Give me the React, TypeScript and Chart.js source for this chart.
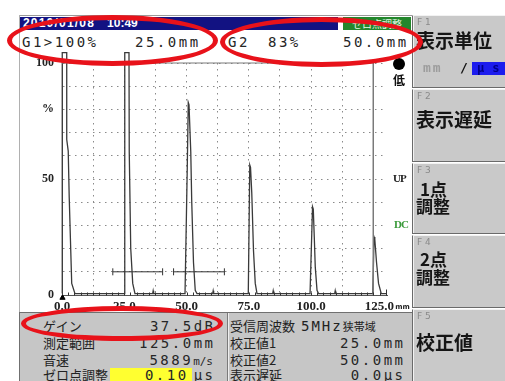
import React, { useEffect, useRef } from "react";
import { Chart, registerables } from "chart.js";

Chart.register(...registerables);

// ---- A-scan echo trace: distance (mm) and amplitude (% of full screen) ----
const echoMm = [
  0, 0.1, 1.9, 1.9, 2.5, 2.9, 3.9, 5.2,
  24.9, 25.2, 26.9, 27.0, 27.6, 28.4, 29.3,
  36.4, 36.6, 36.8,
  49.4, 50.3, 50.7, 51.0, 51.7, 52.1, 52.8, 53.5, 54.2,
  60.5, 60.7, 60.9,
  74.8, 75.4, 75.7, 76.2, 76.9, 77.6, 78.3,
  84.6, 84.8, 85.0,
  99.6, 100.6, 100.9, 101.3, 101.7, 102.4, 103.0,
  109.5, 109.7, 109.9,
  124.8, 125.3, 125.6, 126.3, 127.1, 128.2, 130.5,
];
const echoPct = [
  0.6, 104.5, 104.5, 67, 62, 42, 5, 0.6,
  0.6, 104.5, 104.5, 62, 20, 5, 0.6,
  0.6, 1.8, 0.6,
  0.6, 55, 83, 82, 62, 40, 14, 2, 0.6,
  0.6, 1.8, 0.6,
  0.6, 56, 55, 44, 19, 5, 0.6,
  0.6, 1.8, 0.6,
  0.6, 38, 37, 25, 12, 2, 0.6,
  0.6, 1.8, 0.6,
  0.6, 25, 24, 14, 5, 0.6, 0.6,
];

// ---- gates (start/end mm) and level (%) ----
const gate1Mm = [20.4, 40.4];
const gate2Mm = [44.8, 65.2];
const gateLevelPct = 10;

// ---- frame of the 0..125 mm / 0..100 % screen ----
const frameMm = [0, 125, 125];
const framePct = [100, 100, 0];

// ---- axes ----
const xMin = 0;
const xMax = 130.5;
const xGridMm = [0, 12.5, 25, 37.5, 50, 62.5, 75, 87.5, 100, 112.5, 125];
const xLabelMm = [0, 25, 50, 75, 100];
const xEndLabelMm = 125;
const xEndLabel = "125.0";
const xUnit = "mm";
const minorTickStepMm = 2.5;
const yGridPct = [0, 10, 20, 30, 40, 50, 60, 70, 80, 90, 100];
const yLabelPct = [0, 50, 80, 100];
const yLabelText = ["0", "50", "%", "100"];

// ---- panel texts ----
const dateText = "2010/01/08";
const timeText = "10:49";
const gate1Text = ["G1>100%", "25.0mm"];
const gate2Text = ["G2", "83%", "50.0mm"];
const leftLabels = ["ゲイン", "測定範囲", "音速", "ゼロ点調整"];
const rightLabels = ["受信周波数", "校正値1", "校正値2", "表示遅延"];

const MONO = '"DejaVu Sans Mono", monospace';
const JP = '"Noto Sans CJK JP", "Noto Sans", sans-serif';
const SERIF = '"Liberation Serif", serif';

const baseTicksPlugin = {
  id: "baseTicks",
  afterDatasetsDraw(chart: any) {
    const { ctx } = chart;
    const x = chart.scales.x;
    const y = chart.scales.y;
    const y0 = Math.round(y.getPixelForValue(0)) + 0.5;
    ctx.save();
    ctx.strokeStyle = "#333";
    ctx.lineWidth = 1;
    for (let v = minorTickStepMm; v <= xMax; v += minorTickStepMm) {
      const px = Math.round(x.getPixelForValue(v)) + 0.5;
      ctx.beginPath();
      ctx.moveTo(px, y0);
      ctx.lineTo(px, y0 - 3);
      ctx.stroke();
    }
    const pe = Math.round(x.getPixelForValue(xMax)) - 0.5;
    ctx.beginPath();
    ctx.moveTo(pe, y0);
    ctx.lineTo(pe, y0 - 6);
    ctx.stroke();
    // end label with unit
    const p125 = x.getPixelForValue(xEndLabelMm);
    ctx.fillStyle = "#222";
    ctx.font = `bold 13px ${SERIF}`;
    ctx.textAlign = "center";
    ctx.textBaseline = "middle";
    ctx.fillText(xEndLabel, p125 + 6, y0 + 11);
    ctx.font = `bold 7px "DejaVu Sans", sans-serif`;
    ctx.textAlign = "left";
    ctx.fillText(xUnit, p125 + 22, y0 + 12);
    ctx.restore();
  },
};

function Abs(props: { x: number; y: number; w?: number; h?: number; style?: any; children?: any }) {
  const { x, y, w, h, style, children } = props;
  return (
    <div
      style={{
        position: "absolute",
        left: x,
        top: y,
        width: w,
        height: h,
        whiteSpace: "nowrap",
        ...style,
      }}
    >
      {children}
    </div>
  );
}

export default function App() {
  const ref = useRef<HTMLCanvasElement>(null);

  useEffect(() => {
    const canvas = ref.current;
    if (!canvas) return;
    const toPts = (xs: number[], ys: number[]) => xs.map((v, i) => ({ x: v, y: ys[i] }));
    const chart = new Chart(canvas, {
      type: "line",
      data: {
        datasets: [
          {
            data: toPts(frameMm, framePct),
            borderColor: "#7a7a7a",
            borderWidth: 1,
            pointRadius: 0,
            tension: 0,
            clip: false,
          } as any,
          {
            data: toPts(gate1Mm, [gateLevelPct, gateLevelPct]),
            borderColor: "#333",
            borderWidth: 1,
            pointStyle: "line",
            pointRotation: 90,
            pointRadius: 3.5,
            pointBorderColor: "#333",
            pointBorderWidth: 1,
          } as any,
          {
            data: toPts(gate2Mm, [gateLevelPct, gateLevelPct]),
            borderColor: "#333",
            borderWidth: 1,
            pointStyle: "line",
            pointRotation: 90,
            pointRadius: 3.5,
            pointBorderColor: "#333",
            pointBorderWidth: 1,
          } as any,
          {
            data: toPts(echoMm, echoPct),
            borderColor: "#3a3a3a",
            borderWidth: 1.3,
            pointRadius: 0,
            tension: 0,
            clip: false,
          } as any,
          {
            data: [{ x: 0.2, y: -1.2 }],
            showLine: false,
            pointStyle: "triangle",
            pointRadius: 3,
            pointBackgroundColor: "#000",
            pointBorderColor: "#000",
            clip: false,
          } as any,
        ],
      },
      options: {
        animation: false,
        responsive: false,
        events: [],
        layout: { padding: { left: 0, top: 15, right: 25, bottom: 0 } },
        plugins: { legend: { display: false }, tooltip: { enabled: false } },
        scales: {
          x: {
            type: "linear",
            min: xMin,
            max: xMax,
            afterBuildTicks: (s: any) => {
              s.ticks = xGridMm.map((v) => ({ value: v }));
            },
            afterFit: (s: any) => {
              s.height = 18;
              s.paddingLeft = 0;
              s.paddingRight = 0;
            },
            grid: { color: "#8a8a8a", lineWidth: 1, drawTicks: false },
            border: { display: true, color: "#555", width: 1, dash: [1.5, 4.5] },
            ticks: {
              autoSkip: false,
              maxRotation: 0,
              padding: 4,
              color: "#222",
              font: { family: SERIF, size: 13, weight: "bold" },
              callback: (v: any) => (xLabelMm.includes(Number(v)) ? Number(v).toFixed(1) : ""),
            },
          },
          y: {
            type: "linear",
            min: 0,
            max: 100,
            afterBuildTicks: (s: any) => {
              s.ticks = yGridPct.map((v) => ({ value: v }));
            },
            afterFit: (s: any) => {
              s.width = 42;
              s.paddingTop = 0;
              s.paddingBottom = 0;
            },
            grid: { color: "#8a8a8a", lineWidth: 1, drawTicks: false },
            border: { display: true, color: "#666", width: 1, dash: [1.5, 4.5] },
            ticks: {
              padding: 8,
              color: "#222",
              font: { family: SERIF, size: 12, weight: "bold" },
              callback: (v: any) => {
                const i = yLabelPct.indexOf(Number(v));
                return i >= 0 ? yLabelText[i] : "";
              },
            },
          },
        },
      } as any,
      plugins: [baseTicksPlugin],
    });
    return () => chart.destroy();
  }, []);

  const monoVal = {
    fontFamily: MONO,
    fontSize: 14,
    letterSpacing: "2.5px",
    color: "#262626",
    lineHeight: "16px",
  };
  const jpLabel = { fontFamily: JP, fontSize: 13, color: "#222", lineHeight: "16px" };
  const rowTops = [318, 335, 352, 367];

  const fTops = [15, 89, 163, 235, 309];
  const fHeights = [73, 73, 71, 73, 73];
  const fBig = { fontFamily: JP, fontSize: 19, fontWeight: 600, color: "#151515", lineHeight: "19px" };
  const fMid = { fontFamily: JP, fontSize: 17, fontWeight: 600, color: "#151515", lineHeight: "17px" };

  return (
    <div
      style={{
        position: "fixed",
        left: 0,
        top: 0,
        width: 505,
        height: 381,
        background: "#fff",
        overflow: "hidden",
      }}
    >
      {/* screen frame */}
      <Abs x={19} y={15} w={394} h={1} style={{ background: "#9a9a9a" }} />
      <Abs x={19} y={15} w={1} h={366} style={{ background: "#b0b0b0" }} />

      {/* status bar */}
      <Abs x={20} y={17} w={318} h={13} style={{ background: "#121282" }} />
      <Abs
        x={23}
        y={17}
        style={{
          fontFamily: '"Liberation Sans", sans-serif',
          fontWeight: "bold",
          fontSize: 12,
          lineHeight: "13px",
          color: "#fff",
          letterSpacing: "1.2px",
        }}
      >
        {dateText}
        <span style={{ marginLeft: 12, letterSpacing: 0 }}>{timeText}</span>
      </Abs>
      <Abs x={343} y={17} w={68} h={13} style={{ background: "#23872c" }} />
      <Abs
        x={343}
        y={17}
        w={68}
        style={{ fontFamily: JP, fontSize: 10, lineHeight: "13px", color: "#e8f8e8", textAlign: "center" }}
      >
        ゼロ点調整
      </Abs>

      {/* gate readouts */}
      <Abs x={22} y={34} style={monoVal}>{gate1Text[0]}</Abs>
      <Abs x={135} y={34} style={monoVal}>{gate1Text[1]}</Abs>
      <Abs x={228} y={34} style={monoVal}>{gate2Text[0]}</Abs>
      <Abs x={268} y={34} style={monoVal}>{gate2Text[1]}</Abs>
      <Abs x={343} y={34} style={monoVal}>{gate2Text[2]}</Abs>

      {/* A-scan chart */}
      <canvas
        ref={ref}
        width={392}
        height={265}
        style={{ position: "absolute", left: 20, top: 48, width: 392, height: 265, display: "block" }}
      />

      {/* right indicators */}
      <Abs x={393} y={58} w={12} h={12} style={{ background: "#000", borderRadius: "50%" }} />
      <Abs x={393} y={73} style={{ fontFamily: JP, fontSize: 12, fontWeight: "bold", lineHeight: "13px", color: "#111" }}>
        低
      </Abs>
      <Abs x={393} y={173} style={{ fontFamily: SERIF, fontSize: 11, fontWeight: "bold", lineHeight: "11px", color: "#222", letterSpacing: "-1px" }}>
        UP
      </Abs>
      <Abs x={394} y={219} style={{ fontFamily: SERIF, fontSize: 11, fontWeight: "bold", lineHeight: "11px", color: "#3a9a3a", letterSpacing: "-1px" }}>
        DC
      </Abs>

      {/* bottom parameter panel */}
      <Abs
        x={19}
        y={312}
        w={394}
        h={69}
        style={{ background: "#c6c6c6", borderTop: "1px solid #707070", borderLeft: "1px solid #707070", boxSizing: "border-box" }}
      />
      <Abs x={227} y={313} w={1} h={68} style={{ background: "#7a7a7a" }} />
      <Abs x={228} y={313} w={1} h={68} style={{ background: "#eeeeee" }} />

      {leftLabels.map((t, i) => (
        <Abs key={"ll" + i} x={43} y={rowTops[i]} style={jpLabel}>{t}</Abs>
      ))}
      <Abs x={100} y={rowTops[0]} w={115.5} style={{ ...monoVal, textAlign: "right" }}>37.5dB</Abs>
      <Abs x={100} y={rowTops[1]} w={115.5} style={{ ...monoVal, textAlign: "right" }}>125.0mm</Abs>
      <Abs x={100} y={rowTops[2]} w={113} style={{ ...monoVal, textAlign: "right" }}>
        5889<span style={{ fontSize: 11, letterSpacing: 0 }}>m/s</span>
      </Abs>
      <Abs x={110} y={368} w={82} h={14} style={{ background: "#ffff30" }} />
      <Abs x={100} y={rowTops[3]} w={115.5} style={{ ...monoVal, textAlign: "right" }}>
        0.10<span style={{ marginLeft: 5 }}>μs</span>
      </Abs>

      {rightLabels.map((t, i) => (
        <Abs key={"rl" + i} x={230} y={rowTops[i]} style={jpLabel}>
          {t}
          {i === 0 ? (
            <>
              <span style={{ fontFamily: MONO, fontSize: 14, letterSpacing: "2px", marginLeft: 6 }}>5MHz</span>
              <span style={{ fontSize: 11 }}>狭帯域</span>
            </>
          ) : null}
        </Abs>
      ))}
      <Abs x={300} y={rowTops[1]} w={105.5} style={{ ...monoVal, textAlign: "right" }}>25.0mm</Abs>
      <Abs x={300} y={rowTops[2]} w={105.5} style={{ ...monoVal, textAlign: "right" }}>50.0mm</Abs>
      <Abs x={300} y={rowTops[3]} w={105.5} style={{ ...monoVal, textAlign: "right" }}>0.0μs</Abs>

      {/* function keys */}
      {fTops.map((t, i) => (
        <Abs
          key={"fk" + i}
          x={412}
          y={t}
          w={95}
          h={fHeights[i]}
          style={{
            background: "#c9c9c9",
            borderLeft: "1px solid #6a6a6a",
            borderTop: "1px solid #f2f2f2",
            borderBottom: "1px solid #6a6a6a",
            boxSizing: "border-box",
            boxShadow: "inset 1px 0 0 #f2f2f2",
          }}
        />
      ))}
      {fTops.map((t, i) => (
        <Abs key={"fl" + i} x={417} y={t + 2} style={{ fontFamily: '"DejaVu Sans", sans-serif', fontSize: 9, lineHeight: "10px", color: "#8a8a8a" }}>
          {"F " + (i + 1)}
        </Abs>
      ))}
      <Abs x={416} y={30} style={fBig}>表示単位</Abs>
      <Abs x={423} y={61} style={{ fontFamily: MONO, fontSize: 13, fontWeight: "bold", color: "#9c9c9c", lineHeight: "14px", letterSpacing: "2px" }}>mm</Abs>
      <Abs x={460} y={61} style={{ fontFamily: MONO, fontSize: 13, fontWeight: "bold", color: "#111", lineHeight: "14px" }}>/</Abs>
      <Abs x={472} y={62} w={34} h={13} style={{ background: "#1c1cee" }} />
      <Abs x={477} y={61} style={{ fontFamily: MONO, fontSize: 12, fontWeight: "bold", color: "#00008a", lineHeight: "14px", letterSpacing: "8px" }}>μs</Abs>
      <Abs x={416} y={109} style={fBig}>表示遅延</Abs>
      <Abs x={420} y={180} style={fMid}>1点</Abs>
      <Abs x={416} y={197} style={fMid}>調整</Abs>
      <Abs x={420} y={250} style={fMid}>2点</Abs>
      <Abs x={416} y={268} style={fMid}>調整</Abs>
      <Abs x={416} y={332} style={fBig}>校正値</Abs>

      {/* red highlight ellipses */}
      <Abs x={7} y={15} w={211} h={51} style={{ border: "5px solid #e8121a", borderRadius: "50%", boxSizing: "border-box" }} />
      <Abs x={220} y={17} w={203} h={50} style={{ border: "5px solid #e8121a", borderRadius: "50%", boxSizing: "border-box" }} />
      <Abs x={21} y={306} w={202} h={35} style={{ border: "5px solid #e8121a", borderRadius: "50%", boxSizing: "border-box" }} />
    </div>
  );
}
